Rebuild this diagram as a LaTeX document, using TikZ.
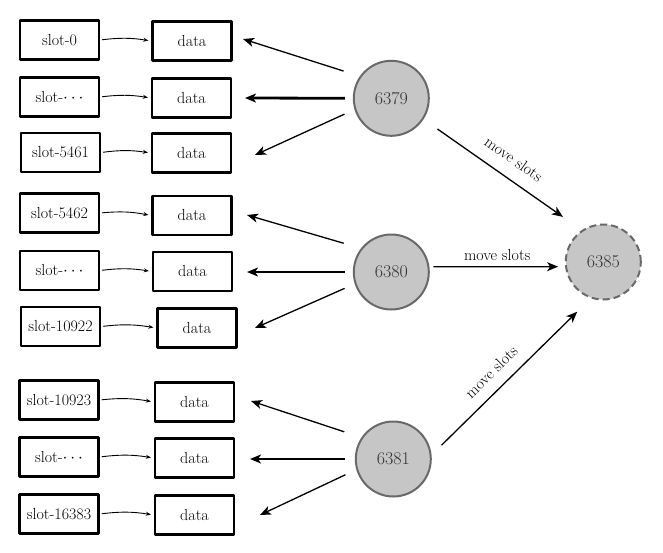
\documentclass[tikz,border=0pt]{standalone}
\usetikzlibrary{arrows.meta}
\definecolor{srvfill}{RGB}{198,198,198}
\definecolor{srvline}{RGB}{105,105,105}
\begin{document}
\begin{tikzpicture}[x=1pt,y=-1pt,
  box/.style={draw=black,line width=2.4pt,line join=round,minimum width=79pt,minimum height=39pt,inner sep=0pt,font=\fontsize{16}{18}\selectfont},
  srv/.style={circle,draw=srvline,fill=srvfill,line width=2pt,minimum size=75pt,inner sep=0pt,font=\fontsize{18}{20}\selectfont,text=black!80},
  newsrv/.style={srv,dashed,dash pattern=on 7pt off 4pt},
  slotarrow/.style={-{Stealth[length=5pt,width=4pt]},line width=0.9pt,shorten <=2pt,shorten >=3pt},
  fan/.style={-{Stealth[length=11pt,width=9pt,inset=3pt]},line width=1.3pt},
  fanthick/.style={fan,line width=2.8pt},
  mv/.style={-{Stealth[length=11pt,width=9pt,inset=3pt]},line width=1.3pt},
  lbl/.style={font=\fontsize{16}{18}\selectfont,inner sep=1pt}
]
\useasboundingbox (0,0) rectangle (663,552);

% slot and data boxes
\node[box] (s1) at (59.5,40) {slot-0};
\node[box] (d1) at (192,41) {data};
\node[box] (s2) at (59.5,97) {slot-$\cdots$};
\node[box] (d2) at (191.5,98) {data};
\node[box] (s3) at (60.5,152.5) {slot-5461};
\node[box] (d3) at (191.5,153) {data};
\node[box] (s4) at (59.5,213) {slot-5462};
\node[box] (d4) at (192,215.5) {data};
\node[box] (s5) at (59.5,270.5) {slot-$\cdots$};
\node[box] (d5) at (192.5,271.5) {data};
\node[box] (s6) at (60.5,326.5) {slot-10922};
\node[box] (d6) at (197,328) {data};
\node[box] (s7) at (59,400) {slot-10923};
\node[box] (d7) at (194.5,402) {data};
\node[box] (s8) at (59,457) {slot-$\cdots$};
\node[box] (d8) at (194.5,458) {data};
\node[box] (s9) at (59,514) {slot-16383};
\node[box] (d9) at (194.5,515) {data};

\foreach \i in {1,...,9}{
  \draw[slotarrow] (s\i.east) to[bend left=8] (d\i.west);
}

% servers
\node[srv] (c1) at (391.3,98.3) {6379};
\node[srv] (c2) at (391.3,272) {6380};
\node[srv] (c3) at (393.3,459) {6381};
\node[newsrv] (c4) at (603.3,262) {6385};

% arrow tips near data boxes
\coordinate (t11) at (243,39);
\coordinate (t12) at (245,98);
\coordinate (t13) at (255,155);
\coordinate (t21) at (247,215);
\coordinate (t22) at (247,272);
\coordinate (t23) at (255,328);
\coordinate (t31) at (251,401);
\coordinate (t32) at (250,459);
\coordinate (t33) at (260,515);

\draw[fan,shorten <=17pt] (c1.145) -- (t11);
\draw[fanthick,shorten <=8pt] (c1.west) -- (t12);
\draw[fan,shorten <=11pt] (c1.197) -- (t13);
\draw[fan,shorten <=18pt] (c2.142) -- (t21);
\draw[fanthick,shorten <=8pt] (c2.west) -- (t22);
\draw[fan,shorten <=11pt] (c2.198) -- (t23);
\draw[fan,shorten <=18pt] (c3.146) -- (t31);
\draw[fanthick,shorten <=10pt] (c3.west) -- (t32);
\draw[fan,shorten <=12pt] (c3.196) -- (t33);

% move slots
\draw[mv,shorten <=17pt,shorten >=23pt] (c1.327) -- node[lbl,sloped,above=12pt] {move slots} (c4.124);
\draw[mv,shorten <=4pt,shorten >=7pt] (c2.8) -- node[lbl,above=4pt] {move slots} (c4.187);
\draw[mv,shorten <=14pt,shorten >=19pt] (c3.6) -- node[lbl,sloped,above=10pt,pos=0.45] {move slots} (c4.251);
\end{tikzpicture}
\end{document}
